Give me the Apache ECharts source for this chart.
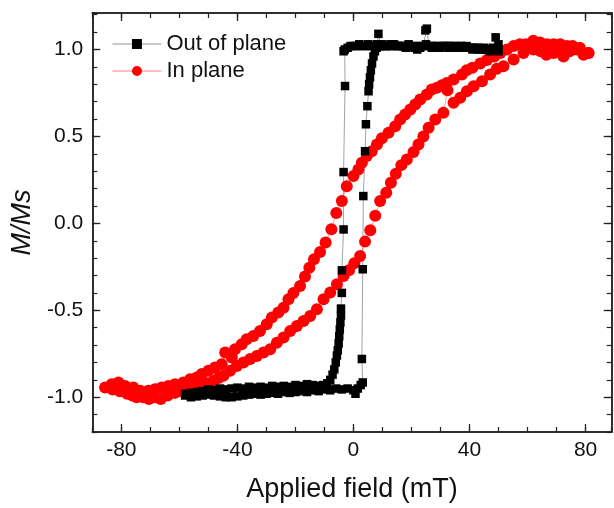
<!DOCTYPE html>
<html><head><meta charset="utf-8">
<script src="https://cdn.jsdelivr.net/npm/echarts@6/dist/echarts.min.js"></script>
<style>html,body{margin:0;padding:0;background:#fff}#c{width:614px;height:508px}</style>
</head><body><div id="c"></div><script>
const xMajorTicks = [-80, -40, 0, 40, 80];
const yMajorTicks = [-1.0, -0.5, 0.0, 0.5, 1.0];
const seriesNames = ['Out of plane', 'In plane'];

// Out of plane: descending branch (+50 -> -58)
const oopDown = [[50,0.99],[49,1.07],[48,1.01],[47,1.0],[46,1.0],[45,1.01],[44,1.0],[43,1.01],[42,1.01],[41,1.0],[40,1.01],[39,1.02],[38,1.01],[37,1.02],[36,1.01],[35,1.02],[34,1.02],[33,1.01],[32,1.02],[31,1.02],[30,1.01],[29,1.02],[28,1.02],[27,1.01],[26,1.02],[25.3,1.12],[24.8,1.11],[24,1.02],[23,1.01],[22,1.0],[21,1.01],[20,1.02],[19,1.02],[18,1.01],[17,1.02],[16,1.02],[15,1.02],[14,1.03],[13,1.02],[12,1.02],[11,1.02],[10,1.03],[9,1.02],[8,1.03],[7,1.02],[6,1.02],[5,1.03],[4,1.02],[3,1.02],[2,1.03],[1,1.02],[0,1.02],[-1,1.02],[-2,1.01],[-3,1.0],[-3.4,0.99],[-2.9,0.79],[-3.4,0.295],[-3.4,-0.035],[-4.0,-0.27],[-4.0,-0.40],[-4.3,-0.49],[-4.3,-0.53],[-4.5,-0.57],[-4.7,-0.61],[-4.9,-0.65],[-5.1,-0.69],[-5.4,-0.73],[-5.7,-0.76],[-6.1,-0.80],[-6.6,-0.84],[-7.2,-0.87],[-8,-0.90],[-9,-0.92],[-10.5,-0.93],[-12,-0.935],[-14,-0.93],[-16,-0.925],[-18,-0.935],[-20,-0.93],[-22,-0.94],[-24,-0.935],[-26,-0.94],[-28,-0.935],[-30,-0.945],[-32,-0.94],[-34,-0.945],[-36,-0.94],[-38,-0.95],[-40,-0.945],[-42,-0.95],[-44,-0.955],[-46,-0.95],[-48,-0.96],[-50,-0.955],[-52,-0.965],[-54,-0.97],[-56,-0.975],[-58,-0.98]];
// Out of plane: ascending branch (-58 -> +50)
const oopUp = [[-58,-0.99],[-56,-1.0],[-54,-0.995],[-52,-0.99],[-50,-0.985],[-48,-0.99],[-46,-0.995],[-44,-1.0],[-42,-1.0],[-40,-0.995],[-38,-0.99],[-36,-0.985],[-34,-0.98],[-32,-0.985],[-30,-0.98],[-28,-0.975],[-26,-0.98],[-24,-0.97],[-22,-0.975],[-20,-0.97],[-18,-0.965],[-16,-0.97],[-14,-0.96],[-12,-0.965],[-10,-0.955],[-8,-0.96],[-6,-0.95],[-4,-0.955],[-2,-0.95],[0,-0.96],[0.7,-0.98],[1.5,-0.95],[2.5,-0.93],[3.2,-0.915],[2.9,-0.78],[3.2,-0.264],[3.4,0.157],[4.0,0.415],[4.3,0.57],[4.8,0.674],[5.2,0.76],[5.4,0.80],[5.7,0.84],[6.0,0.88],[6.4,0.92],[6.9,0.96],[7.4,0.99],[8.0,1.01],[8.6,1.09],[9.5,1.02],[11,1.02],[13,1.03],[15,1.02],[17,1.02],[19,1.03],[21,1.02],[23,1.02],[25,1.03],[27,1.02],[29,1.01],[31,1.02],[33,1.02],[35,1.01],[37,1.02],[39,1.01],[41,1.01],[43,1.0],[45,1.0],[47,0.99],[49,1.0],[50,1.03]];

// In plane: descending branch (+81 -> -85.6)
const ipDown = [[81,0.98],[78,1.01],[75.5,1.02],[73.6,1.02],[71.3,1.03],[69,1.03],[66.7,1.03],[64.3,1.04],[62,1.05],[59.5,1.03],[57.3,1.03],[55.2,1.02],[52.9,1.0],[50.6,0.98],[48.5,0.96],[46,0.94],[43.7,0.92],[41,0.895],[39,0.88],[37.4,0.856],[34.5,0.828],[32.2,0.808],[30.5,0.795],[28.8,0.78],[27,0.77],[25.3,0.741],[23,0.712],[21.3,0.684],[19.6,0.655],[17.8,0.626],[16.1,0.598],[14.4,0.559],[12.1,0.521],[9.8,0.49],[8.1,0.454],[6.3,0.415],[4.6,0.387],[2.9,0.349],[1.7,0.31],[0,0.272],[-2.3,0.214],[-4,0.128],[-5.9,0.06],[-7.6,-0.034],[-9.6,-0.11],[-11.5,-0.165],[-13.6,-0.207],[-15.2,-0.255],[-16.7,-0.305],[-18.4,-0.36],[-20.7,-0.40],[-22.4,-0.437],[-24.1,-0.485],[-25.9,-0.513],[-28.1,-0.542],[-29.9,-0.58],[-32.2,-0.619],[-34.5,-0.648],[-36.8,-0.667],[-38.5,-0.695],[-40.8,-0.724],[-41.9,-0.772],[-44.2,-0.743],[-45.4,-0.81],[-47.7,-0.829],[-50,-0.848],[-52.3,-0.867],[-54,-0.887],[-56.3,-0.896],[-58.6,-0.915],[-61.5,-0.925],[-63.8,-0.935],[-66.1,-0.944],[-68.4,-0.954],[-70.7,-0.963],[-73.5,-0.963],[-75.9,-0.944],[-78.7,-0.935],[-81,-0.915],[-83.3,-0.925],[-85.6,-0.944]];
// In plane: ascending branch (-83 -> +81)
const ipUp = [[-83,-0.955],[-80.5,-0.965],[-78,-0.98],[-76.2,-0.99],[-74.7,-1.0],[-72.5,-1.0],[-70.5,-1.01],[-68.5,-1.0],[-66.4,-1.01],[-64,-0.99],[-61.5,-0.975],[-59.5,-0.965],[-57.4,-0.954],[-55.2,-0.945],[-52.9,-0.935],[-50.6,-0.92],[-48.3,-0.906],[-46.5,-0.89],[-44.8,-0.877],[-42.5,-0.848],[-40.2,-0.82],[-37.9,-0.80],[-35.6,-0.78],[-33.3,-0.763],[-31,-0.743],[-28.7,-0.724],[-26.4,-0.686],[-24.1,-0.657],[-21.8,-0.619],[-19.5,-0.59],[-17.2,-0.561],[-14.9,-0.533],[-12.6,-0.494],[-10.3,-0.437],[-8,-0.398],[-5.7,-0.35],[-3.4,-0.303],[-1.5,-0.27],[0.3,-0.23],[2.3,-0.188],[4,-0.105],[5.8,-0.04],[7.5,0.044],[9.2,0.128],[11.3,0.176],[12.9,0.234],[14.6,0.285],[16.5,0.335],[18.4,0.368],[20.7,0.41],[22.4,0.454],[24.1,0.50],[25.9,0.55],[28.2,0.598],[31,0.636],[32.4,0.765],[34.5,0.694],[36.8,0.722],[39.1,0.76],[41.4,0.789],[44.3,0.818],[47.1,0.856],[49.4,0.89],[51.7,0.904],[55.2,0.942],[58.6,0.98],[62,1.0],[64.5,0.99],[66.5,0.97],[69,0.98],[71,0.99],[72.4,0.96],[74.5,0.99],[77,1.0],[79.3,0.97],[81,0.98]];

const FONT = 'Liberation Sans, Arial, sans-serif';
const AX = '#222';

function xAxisDef(pos, major) {
  const a = {
    type: 'value', gridIndex: 0, position: pos, min: -90, max: 89,
    axisLine: { show: true, onZero: false, lineStyle: { color: AX, width: 1.5 } },
    splitLine: { show: false },
    axisLabel: { show: false }
  };
  if (major) {
    a.axisTick = { show: true, inside: true, length: 8, customValues: xMajorTicks, lineStyle: { color: AX, width: 1.3 } };
    if (pos === 'bottom') {
      a.axisLabel = { show: true, customValues: xMajorTicks, fontSize: 21, color: '#111', margin: 8, fontFamily: FONT };
      a.name = 'Applied field (mT)';
      a.nameLocation = 'middle';
      a.nameGap = 44;
      a.nameTextStyle = { fontSize: 27, color: '#111', fontFamily: FONT };
    }
  } else {
    a.interval = 10;
    a.axisTick = { show: true, inside: true, length: 5, lineStyle: { color: AX, width: 1.2 } };
  }
  return a;
}
function yAxisDef(pos, major) {
  const a = {
    type: 'value', gridIndex: 0, position: pos, min: -1.2, max: 1.21,
    axisLine: { show: true, onZero: false, lineStyle: { color: AX, width: 1.5 } },
    splitLine: { show: false },
    axisLabel: { show: false }
  };
  if (major) {
    a.axisTick = { show: true, inside: true, length: 8, customValues: yMajorTicks, lineStyle: { color: AX, width: 1.3 } };
    if (pos === 'left') {
      a.axisLabel = { show: true, customValues: yMajorTicks, fontSize: 21, color: '#111', margin: 9, fontFamily: FONT,
        formatter: v => Number(v).toFixed(1) };
      a.name = 'M/Ms';
      a.nameLocation = 'middle';
      a.nameGap = 51;
      a.nameTextStyle = { fontSize: 27, fontStyle: 'italic', color: '#111', fontFamily: FONT };
    }
  } else {
    a.interval = 0.1;
    a.axisTick = { show: true, inside: true, length: 5, lineStyle: { color: AX, width: 1.2 } };
  }
  return a;
}

const chart = echarts.init(document.getElementById('c'), null, { renderer: 'canvas' });
chart.setOption({
  animation: false,
  backgroundColor: '#fff',
  textStyle: { fontFamily: FONT },
  grid: { left: 92.3, right: 2.3, top: 13, bottom: 75, containLabel: false },
  xAxis: [xAxisDef('bottom', true), xAxisDef('bottom', false), xAxisDef('top', true), xAxisDef('top', false)],
  yAxis: [yAxisDef('left', true), yAxisDef('left', false), yAxisDef('right', true), yAxisDef('right', false)],
  legend: {
    data: [
      { name: seriesNames[0], lineStyle: { color: '#b8b8b8', width: 1.5 } },
      { name: seriesNames[1], lineStyle: { color: '#ffa8a8', width: 1.5 } }
    ],
    orient: 'vertical', left: 111.7, top: 33, padding: 0,
    itemWidth: 49, itemHeight: 12.5, itemGap: 5,
    textStyle: { fontSize: 22, color: '#111', fontFamily: FONT, lineHeight: 22 }
  },
  series: [
    {
      name: seriesNames[1], type: 'line', xAxisIndex: 0, yAxisIndex: 0,
      data: ipDown.concat(ipUp),
      symbol: 'circle', symbolSize: 12, showSymbol: true,
      itemStyle: { color: '#ff0000' },
      lineStyle: { color: '#ff8a8a', width: 0.8 },
      emphasis: { disabled: true }
    },
    {
      name: seriesNames[0], type: 'line', xAxisIndex: 0, yAxisIndex: 0,
      data: oopDown.concat(oopUp),
      symbol: 'rect', symbolSize: 8.5, showSymbol: true,
      itemStyle: { color: '#000000' },
      lineStyle: { color: '#8a8a8a', width: 0.8 },
      emphasis: { disabled: true }
    }
  ]
});
</script></body></html>
